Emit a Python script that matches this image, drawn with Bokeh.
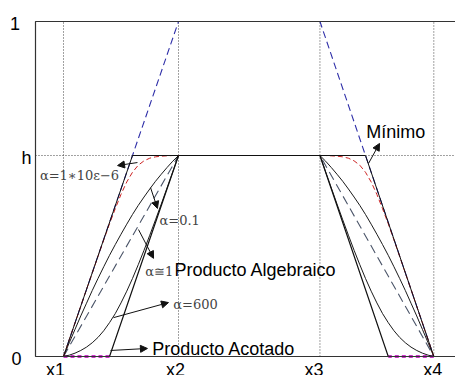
from bokeh.plotting import figure
from bokeh.models import Range1d, Label, Arrow, NormalHead
from bokeh.embed import file_html
from bokeh.resources import INLINE

# ---------------- data ----------------
h = 0.6
x_points = [1.0, 2.0, 3.23, 4.22]          # x1, x2, x3, x4
x_labels = ["x1", "x2", "x3", "x4"]
y_points = [0.0, h, 1.0]
y_labels = ["0", "h", "1"]

# position along each slope (0 at x1/x4, 1 at x2/x3)
ramp = [0.0, 0.05, 0.10, 0.15, 0.20, 0.25, 0.30, 0.35, 0.40, 0.45, 0.50,
        0.55, 0.60, 0.65, 0.70, 0.75, 0.80, 0.85, 0.90, 0.95, 1.0]
alpha_1e6 = [0.0, 0.050, 0.100, 0.150, 0.200, 0.249, 0.299, 0.348, 0.396, 0.441, 0.484,
             0.521, 0.550, 0.571, 0.584, 0.592, 0.596, 0.598, 0.599, 0.600, 0.600]
alpha_01 = [0.0, 0.041, 0.081, 0.121, 0.159, 0.197, 0.233, 0.268, 0.302, 0.334, 0.365,
            0.395, 0.424, 0.451, 0.476, 0.500, 0.523, 0.544, 0.564, 0.583, 0.600]
alpha_600 = [0.0, 0.004, 0.010, 0.018, 0.028, 0.041, 0.057, 0.077, 0.101, 0.128, 0.160,
             0.195, 0.233, 0.274, 0.317, 0.362, 0.408, 0.455, 0.503, 0.551, 0.600]
prod_ramp = [0.0, 1.0]
prod_vals = [0.0, 0.6]
bounded_ramp = [0.0, 0.4, 1.0]
bounded_vals = [0.0, 0.0, 0.6]
min_ramp = [0.0, 0.6, 1.0]
min_vals = [0.0, 0.6, 0.6]
trap_ramp = [0.0, 1.0]
trap_vals = [0.0, 1.0]


def full_curve(r, v):
    x1, x2, x3, x4 = x_points
    xs = [x1 + t * (x2 - x1) for t in r] + [x4 - t * (x4 - x3) for t in reversed(r)]
    ys = list(v) + list(reversed(v))
    return xs, ys


def side_curves(r, v):
    x1, x2, x3, x4 = x_points
    left = [x1 + t * (x2 - x1) for t in r]
    right = [x4 - t * (x4 - x3) for t in r]
    return [left, right], [list(v), list(v)]


# ---------------- layout ----------------
X_LO, X_HI = 0.45217, 4.40870     # whole canvas in data units
Y_LO, Y_HI = -0.05672, 1.06269
FRAME_LEFT = 0.7565               # left edge of the drawn box

p = figure(width=455, height=375, output_backend="svg", toolbar_location=None,
           x_range=Range1d(X_LO, X_HI), y_range=Range1d(Y_LO, Y_HI),
           x_axis_location=None, y_axis_location=None,
           min_border=0, min_border_left=0, min_border_right=0,
           min_border_top=0, min_border_bottom=0)
p.outline_line_color = None
p.xgrid.visible = False
p.ygrid.visible = False
p.background_fill_color = "white"
p.border_fill_color = "white"

# dotted guide lines
p.segment(x0=x_points, y0=[y_points[0]] * len(x_points), x1=x_points, y1=[y_points[-1]] * len(x_points),
          line_color="#444444", line_dash="1 2", line_width=1)
p.segment(x0=[FRAME_LEFT], y0=[h], x1=[X_HI], y1=[h],
          line_color="#444444", line_dash="1 2", line_width=1)

# curves
xs, ys = full_curve(trap_ramp, trap_vals)
p.line(xs, ys, line_color="#2e2ea8", line_dash="7 4", line_width=1.1)

xs, ys = side_curves(bounded_ramp[:2], bounded_vals[:2])
p.multi_line(xs, ys, line_color="#cc33cc", line_dash="4 3", line_width=3.2)

xs, ys = full_curve(prod_ramp, prod_vals)
p.line(xs, ys, line_color="#4a5468", line_dash="9 5", line_width=1.1)

xs, ys = full_curve(ramp, alpha_600)
p.line(xs, ys, line_color="#1a1a1a", line_width=1)

xs, ys = full_curve(ramp, alpha_01)
p.line(xs, ys, line_color="#1a1a1a", line_width=1)

xs, ys = full_curve(bounded_ramp[1:], bounded_vals[1:])
p.line(xs, ys, line_color="#111111", line_width=1.2)

xs, ys = full_curve(ramp, alpha_1e6)
p.line(xs, ys, line_color="#cc2222", line_dash="5 3", line_width=1)

xs, ys = full_curve(min_ramp, min_vals)
p.line(xs, ys, line_color="#111111", line_width=1)

# box (left, top, bottom edges)
p.line([X_HI, FRAME_LEFT, FRAME_LEFT, X_HI], [y_points[-1], y_points[-1], y_points[0], y_points[0]],
       line_color="#333333", line_width=1.2)

# tick-like labels
sans = "Liberation Sans"
serif = "DejaVu Serif"
for txt, yv, xx in zip(y_labels, y_points, [0.591, 0.678, 0.578]):
    p.add_layout(Label(x=xx, y=yv, y_offset=-2, text=txt, text_font=sans, text_font_size="18px",
                       text_align="center", text_baseline="alphabetic", text_color="black"))
for txt, xv, off in zip(x_labels, x_points, [-8, -3, -6, -1]):
    p.add_layout(Label(x=xv, y=y_points[0], x_offset=off, y_offset=-14, text=txt, text_font=sans,
                       text_font_size="18px", text_align="center", text_baseline="alphabetic",
                       text_color="black"))

# annotations (x, y, extra upward offset)
notes = [
    ("α=1∗10ε−6", 0.795, 0.531, serif, "13px", "#444444", 3),
    ("α=0.1", 1.835, 0.397, serif, "13px", "#444444", 3),
    ("α≅1", 1.710, 0.245, serif, "13px", "#444444", 3),
    ("Producto Algebraico", 1.965, 0.245, sans, "18px", "black", 4),
    ("α=600", 1.955, 0.146, serif, "13px", "#444444", 3),
    ("Producto Acotado", 1.772, 0.009, sans, "18px", "black", 4),
    ("Mínimo", 3.632, 0.657, sans, "18px", "black", 4),
]
for txt, xx, yy, fnt, size, col, off in notes:
    p.add_layout(Label(x=xx, y=yy, y_offset=off, text=txt, text_font=fnt, text_font_size=size,
                       text_align="left", text_baseline="alphabetic", text_color=col))

arrows = [
    (1.643, 0.579, 1.470, 0.570),
    (1.757, 0.504, 1.817, 0.442),
    (1.652, 0.379, 1.783, 0.293),
    (1.435, 0.116, 1.913, 0.161),
    (1.409, 0.018, 1.730, 0.024),
    (3.652, 0.576, 3.748, 0.636),
]
for xs0, ys0, xe, ye in arrows:
    p.add_layout(Arrow(x_start=xs0, y_start=ys0, x_end=xe, y_end=ye,
                       line_color="#111111", line_width=1,
                       end=NormalHead(size=7, fill_color="#111111", line_color="#111111")))

open("out.html", "w").write(file_html(p, INLINE))
